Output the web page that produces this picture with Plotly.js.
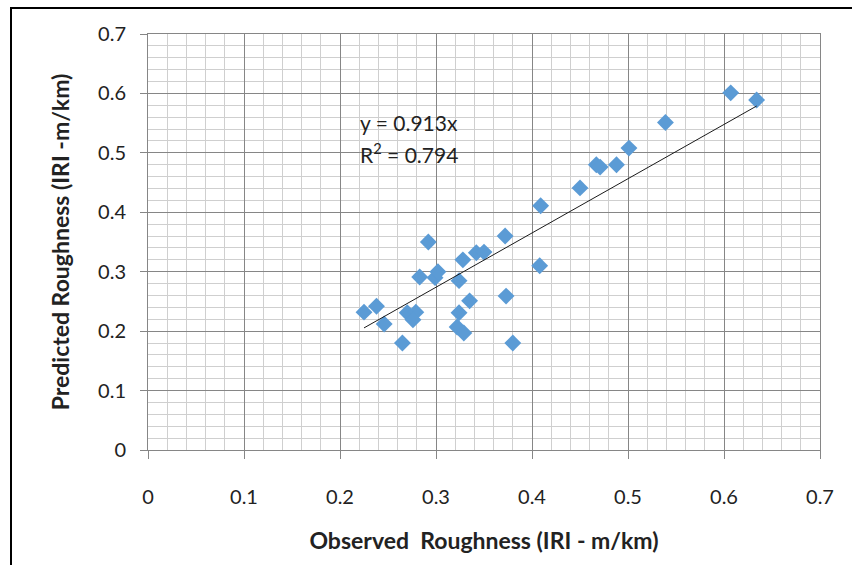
<!DOCTYPE html>
<html>
<head>
<meta charset="utf-8">
<script src="https://cdn.plot.ly/plotly-3.0.1.min.js"></script>
<style>
  html, body { margin: 0; padding: 0; background: #fff; }
  #wrap { position: relative; width: 852px; height: 565px; overflow: hidden; }
  #frame { position: absolute; left: 10px; top: 7px; width: 900px; height: 600px;
           border-left: 2px solid #000; border-top: 2px solid #000; pointer-events: none; }
  #chart { position: absolute; left: 0; top: 0; width: 852px; height: 565px; }
</style>
</head>
<body>
<div id="wrap">
  <div id="chart"></div>
  <div id="frame"></div>
</div>
<script>
// Observed roughness (IRI - m/km)
const observed = [0.225, 0.238, 0.246, 0.265, 0.270, 0.279, 0.276, 0.292, 0.283, 0.299,
                  0.302, 0.322, 0.329, 0.324, 0.324, 0.328, 0.335, 0.342, 0.350, 0.372,
                  0.373, 0.380, 0.408, 0.409, 0.450, 0.467, 0.471, 0.488, 0.501, 0.539,
                  0.607, 0.634];
// Predicted roughness (IRI - m/km)
const predicted = [0.232, 0.242, 0.212, 0.180, 0.231, 0.232, 0.219, 0.350, 0.291, 0.290,
                   0.300, 0.207, 0.197, 0.231, 0.285, 0.320, 0.251, 0.332, 0.333, 0.360,
                   0.259, 0.180, 0.310, 0.411, 0.441, 0.480, 0.476, 0.480, 0.508, 0.551,
                   0.601, 0.589];
const slope = 0.913;
const rSquared = 0.794;
const tickValues = [0, 0.1, 0.2, 0.3, 0.4, 0.5, 0.6, 0.7];
const tickLabels = ['0', '0.1', '0.2', '0.3', '0.4', '0.5', '0.6', '0.7'];

const xMin = Math.min(...observed);
const xMax = Math.max(...observed);
const trendX = [xMin, xMax];
const trendY = trendX.map(v => slope * v);

const font = 'Lato, "Open Sans", "Noto Sans", sans-serif';
const majorGrid = '#868686';
const minorGrid = '#cfcfcf';

const traces = [
  {
    x: observed, y: predicted, type: 'scatter', mode: 'markers',
    marker: { symbol: 'diamond', size: 13, color: '#5B9BD5', line: { width: 0 } },
    showlegend: false, hoverinfo: 'x+y'
  },
  {
    x: trendX, y: trendY, type: 'scatter', mode: 'lines',
    line: { color: '#1a1a1a', width: 1 },
    showlegend: false, hoverinfo: 'skip'
  }
];

const axisCommon = {
  range: [0, 0.7],
  tickvals: tickValues,
  ticktext: tickLabels,
  showgrid: true, gridcolor: majorGrid, gridwidth: 1,
  minor: { dtick: 0.02, showgrid: true, gridcolor: minorGrid, gridwidth: 1, ticks: '' },
  showline: true, linecolor: majorGrid, linewidth: 1, mirror: true,
  ticks: 'outside', tickcolor: majorGrid, tickwidth: 1,
  zeroline: false,
  tickfont: { family: font, size: 20, color: '#222' },
  fixedrange: true
};

const layout = {
  width: 852, height: 565,
  margin: { l: 148, r: 32, t: 34, b: 115 },
  paper_bgcolor: '#ffffff', plot_bgcolor: '#ffffff',
  xaxis: Object.assign({}, axisCommon, {
    ticklen: 8, ticklabelstandoff: 21,
    title: { text: 'Observed&nbsp; Roughness (IRI - m/km)', standoff: 25,
             font: { family: font, size: 23, color: '#222', weight: 'bold' } }
  }),
  yaxis: Object.assign({}, axisCommon, {
    ticklen: 7, ticklabelstandoff: 10,
    title: { text: 'Predicted Roughness (IRI -m/km)', standoff: 22,
             font: { family: font, size: 23, color: '#222', weight: 'bold' } }
  }),
  annotations: [
    { xref: 'x', yref: 'y', x: 0.219, y: 0.5505, xanchor: 'left', yanchor: 'middle',
      text: 'y = ' + slope + 'x', showarrow: false,
      font: { family: font, size: 21, color: '#222' } },
    { xref: 'x', yref: 'y', x: 0.219, y: 0.5, xanchor: 'left', yanchor: 'middle',
      text: 'R<sup>2</sup> = ' + rSquared, showarrow: false,
      font: { family: font, size: 21, color: '#222' } }
  ]
};

Plotly.newPlot('chart', traces, layout, { displayModeBar: false, staticPlot: true });
</script>
</body>
</html>
